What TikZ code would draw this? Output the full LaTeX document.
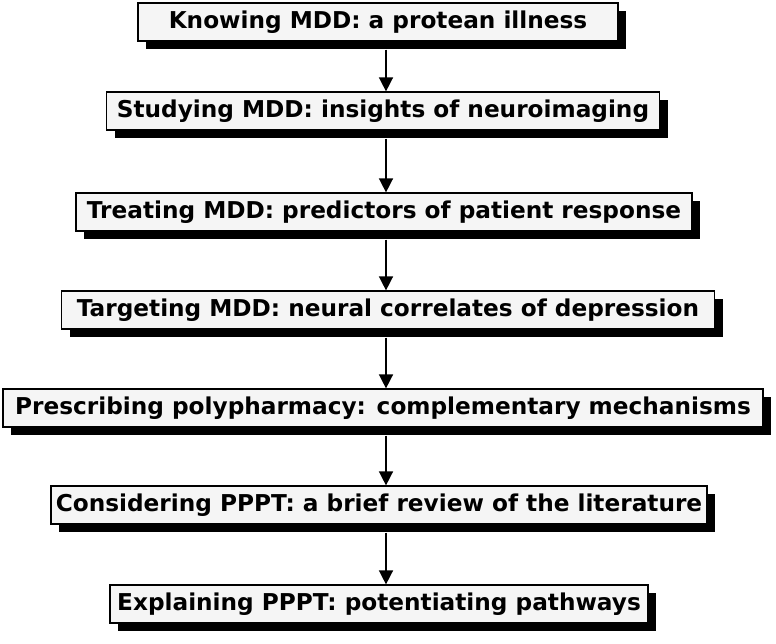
\documentclass[tikz,border=0pt]{standalone}
\usepackage{fontspec}
\setmainfont{DejaVu Sans}
\usetikzlibrary{arrows.meta,shadows}

\tikzset{
    stage/.style={draw=black, line width=1.2pt, fill=gray!8, minimum height=38pt,
        inner xsep=2pt, font=\bfseries\fontsize{23.2}{26}\selectfont,
        drop shadow={shadow xshift=8pt, shadow yshift=-8pt, fill=black, opacity=1}},
    flow/.style={line width=1.5pt, -{Triangle[length=14pt,width=14pt]}}
}

\begin{document}
\begin{tikzpicture}[x=1pt,y=-1pt]
    \useasboundingbox[fill=white] (0,0) rectangle (776,644);

    \node[stage, minimum width=480pt] (know) at (378,22) {Knowing MDD: a protean illness};
    \node[stage, minimum width=553pt] (study) at (383,111) {Studying MDD: insights of neuroimaging};
    \node[stage, minimum width=616pt] (treat) at (384,212) {Treating MDD: predictors of patient response};
    \node[stage, minimum width=653pt] (target) at (388,310) {Targeting MDD: neural correlates of depression};
    \node[stage, minimum width=760pt] (prescribe) at (383,408) {Prescribing polypharmacy: complementary mechanisms};
    \node[stage, minimum width=656pt] (consider) at (379,505) {Considering PPPT: a brief review of the literature};
    \node[stage, minimum width=538pt] (explain) at (379,604) {Explaining PPPT: potentiating pathways};

    \coordinate (axis) at (386,0);
    \foreach \a/\b in {know/study, study/treat, treat/target, target/prescribe,
                       prescribe/consider, consider/explain}
        \draw[flow] ([yshift=-8pt]\a.south -| axis) -- (\b.north -| axis);
\end{tikzpicture}
\end{document}
